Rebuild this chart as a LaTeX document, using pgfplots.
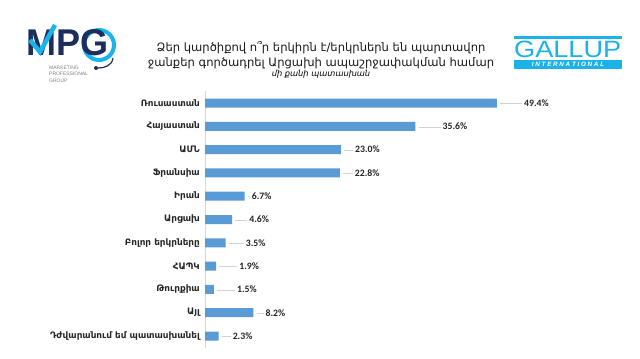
\documentclass[border=0pt]{standalone}
\usepackage{pgfplots}
\usepackage{pgfplotstable}
\pgfplotsset{compat=1.18}
\usepackage{fontspec}
\setmainfont{DejaVu Sans}
\newfontfamily\carlito{Carlito}
\newfontfamily\libsans{Liberation Sans}
\definecolor{barblue}{HTML}{5B9BD5}
\definecolor{navy}{HTML}{1B2E5C}
\definecolor{mpgblue}{HTML}{18B4EA}
\definecolor{gallup}{HTML}{1CB2E8}
\pgfplotstableread{
val pos len
49.4 0 22
35.6 1 22
23.0 2 9
22.8 3 10
6.7 4 2
4.6 5 12
3.5 6 15
1.9 7 18
1.5 8 18
8.2 9 7
2.3 10 9
}\datatab
\begin{document}
\begin{tikzpicture}[x=1bp,y=1bp]
\useasboundingbox[fill=white] (0,0) rectangle (640,358);
% MPG logo
\draw[mpgblue, line width=4bp] (99,313) circle (15);
\draw[navy, line width=1.2bp] (113,300) .. controls (112,292) and (104,290) .. (98,290);
\fill[navy] (96,290) circle (2);
\node[anchor=west,inner sep=0,text=navy] at (26,315) {\resizebox{82bp}{26bp}{\libsans\bfseries MPG}};
\draw[mpgblue, line width=4.5bp] (30,318) -- (40,306) -- (55,333);
\node[anchor=north west,inner sep=0,align=left,text=gray,font=\libsans\fontsize{5}{6.2}\selectfont] at (49,292) {MARKETING\\PROFESSIONAL\\GROUP};
% Gallup logo
\fill[gallup] (514,319.5) rectangle (622,322);
\node[anchor=south west,inner sep=0,text=gallup] at (514,300.5) {\resizebox{107bp}{16.5bp}{\libsans GALLUP}};
\fill[gallup] (514,289) rectangle (622,298);
\node[anchor=center,inner sep=0,text=white,font=\libsans\fontsize{6.3}{6}\selectfont\bfseries\itshape] at (568,293.3) {I N T E R N A T I O N A L};
% title
\node[align=center,inner sep=0,font=\fontsize{11.6}{15}\selectfont,text=black!90] at (321,303) {Ձեր կարծիքով ո՞ր երկիրն է/երկրներն են պարտավոր\\ջանքեր գործադրել Արցախի ապաշրջափակման համար};
\node[inner sep=0,font=\fontsize{8.3}{9}\selectfont\itshape] at (321,283.5) {մի քանի պատասխան};
\begin{axis}[
  at={(205bp,10.35bp)}, anchor=south west,
  scale only axis, width=354.6bp, height=256.3bp,
  xbar, bar width=9bp,
  xmin=0, xmax=60, ymin=-0.5, ymax=10.5,
  y dir=reverse,
  axis x line=none,
  axis y line*=left,
  y axis line style={draw=gray!30},
  major tick length=0pt,
  ytick={0,...,10},
  yticklabels={Ռուսաստան,Հայաստան,ԱՄՆ,Ֆրանսիա,Իրան,Արցախ,Բոլոր երկրները,ՀԱՊԿ,Թուրքիա,Այլ,Դժվարանում եմ պատասխանել},
  yticklabel style={font=\fontsize{8.9}{9}\selectfont\bfseries, text=black!85, inner sep=1bp, xshift=-4bp},
  visualization depends on={\thisrow{len} \as \lenv},
  nodes near coords={\textcolor{gray!35}{\rule[0.5ex]{\lenv bp}{0.7pt}}\hspace{2bp}\pgfmathprintnumber[fixed,fixed zerofill,precision=1,assume math mode=true]{\pgfplotspointmeta}\%},
  every node near coord/.append style={anchor=west, inner sep=0pt, xshift=3bp, font=\carlito\bfseries\fontsize{9.8}{10}\selectfont, text=black!85},
  clip=false,
]
\addplot[fill=barblue, draw=none] table[x=val, y=pos] {\datatab};
\end{axis}
\end{tikzpicture}
\end{document}
